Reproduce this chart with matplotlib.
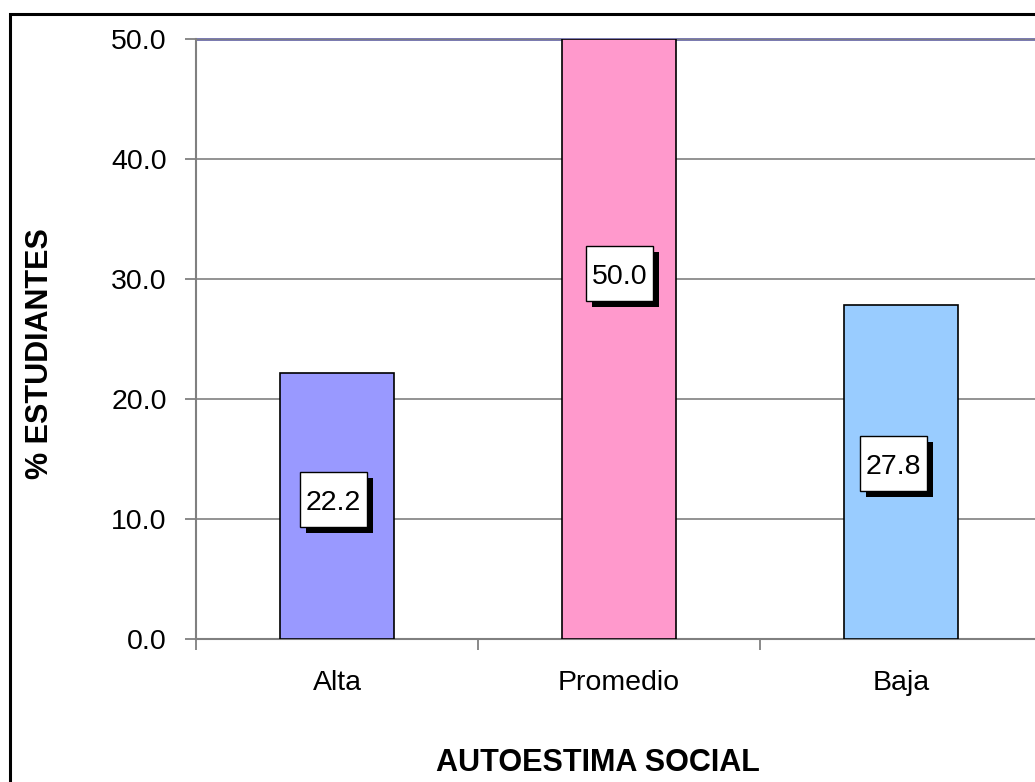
import matplotlib
matplotlib.use("Agg")
import matplotlib.pyplot as plt
import matplotlib.transforms as mtransforms
from matplotlib.patches import Rectangle

categories = ["Alta", "Promedio", "Baja"]
values = [22.2, 50.0, 27.8]
colors = ["#9999FF", "#FF99CC", "#99CCFF"]

plt.rcParams["font.family"] = ["Liberation Sans", "DejaVu Sans"]

W, H = 1035, 782
fig = plt.figure(figsize=(W / 100, H / 100), dpi=100)

# outer chart border (cropped on the right and bottom like the original)
fig.patches.append(Rectangle((10 / W, -0.1), 1.2, (H - 14) / H + 0.1,
                             transform=fig.transFigure, fill=False,
                             edgecolor="black", linewidth=2.2))

ax = fig.add_axes([196 / W, (H - 639) / H, 846 / W, 600 / H])

x = range(len(categories))
ax.bar(x, values, width=0.405, color=colors, edgecolor="black", linewidth=1.2, zorder=3)

ax.set_xlim(-0.5, 2.5)
ax.set_ylim(0, 50)
ticks = [0, 10, 20, 30, 40, 50]
ax.set_yticks(ticks)
ax.set_yticklabels(["%.1f" % v for v in ticks], fontsize=20.5)
ax.set_xticks(list(x))
ax.set_xticklabels(categories, fontsize=20.5)
ax.set_xticks([-0.5, 0.5, 1.5, 2.5], minor=True)
ax.tick_params(axis="x", which="major", length=0, pad=22)
ax.tick_params(axis="x", which="minor", length=8, width=1.3, color="#808080", direction="out")
ax.tick_params(axis="y", length=8, width=1.3, color="#808080", direction="out", pad=13)

ax.yaxis.grid(True, color="#808080", linewidth=1.2, zorder=0)
for s in ["top", "right"]:
    ax.spines[s].set_visible(False)
for s in ["left", "bottom"]:
    ax.spines[s].set_color("#808080")
    ax.spines[s].set_linewidth(1.5)
ax.axhline(50, color="#6C6CA8", linewidth=2, zorder=1, clip_on=False)

# axis titles
fig.text(598 / W, 1 - 763 / H, "AUTOESTIMA SOCIAL", fontsize=22, fontweight="bold",
         ha="center", va="center")
fig.text(40 / W, 1 - 354 / H, "% ESTUDIANTES", fontsize=22, fontweight="bold",
         ha="center", va="center", rotation=90)

# value labels: white box with black drop shadow
label_x = [-0.012, 1.002, 1.973]
label_y = [11.6, 30.45, 14.6]
bw, bh = 67 / 282, 55 / 12   # box size in data units (67 x 55 px)
shadow = ax.transData + mtransforms.ScaledTranslation(6 / 100, -6 / 100, fig.dpi_scale_trans)
for v, lx, ly in zip(values, label_x, label_y):
    ax.add_patch(Rectangle((lx - bw / 2, ly - bh / 2), bw, bh, facecolor="black",
                           edgecolor="none", transform=shadow, zorder=4))
    ax.add_patch(Rectangle((lx - bw / 2, ly - bh / 2), bw, bh, facecolor="white",
                           edgecolor="black", linewidth=1, zorder=5))
    ax.text(lx, ly, "%.1f" % v, fontsize=20.5, ha="center", va="center_baseline", zorder=6)

fig.savefig("out.png", dpi=100)
